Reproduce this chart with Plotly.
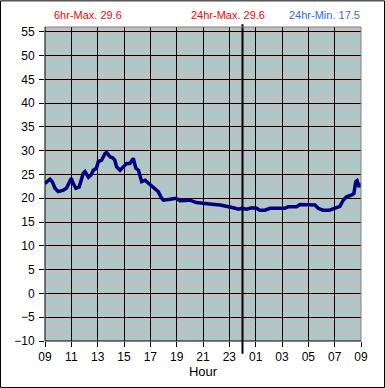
import plotly.graph_objects as go

# Hours since 09:00 and temperature readings
hours = [0, 0.38, 0.55, 0.76, 1.0, 1.4, 1.65, 1.9, 2.0, 2.15, 2.35, 2.6, 2.9, 3.04, 3.3, 3.5,
         3.67, 3.9, 4.05, 4.3, 4.56, 4.68, 4.94, 5.14, 5.3, 5.44, 5.7, 5.95, 6.2, 6.45, 6.7,
         6.9, 7.1, 7.34, 7.6, 7.84, 8.2, 8.6, 8.86, 9.0, 9.5, 9.95, 10.25, 10.76, 11.0, 11.5,
         12.0, 12.5, 13.3, 13.67, 14.05, 14.3, 14.7, 14.94, 15.3, 15.7, 16.07, 16.3, 16.7,
         17.1, 17.7, 18.2, 18.47, 19.1, 19.36, 20.1, 20.5, 20.75, 21.1, 21.6, 22.0, 22.4,
         22.65, 22.9, 23.3, 23.46, 23.6, 23.7, 23.85, 24.0]
temps = [23.1, 24.0, 23.5, 22.1, 21.4, 21.7, 22.2, 23.5, 24.2, 23.1, 22.1, 22.4, 25.2, 25.6,
         24.4, 24.9, 25.9, 26.3, 27.7, 28.0, 29.4, 29.6, 28.7, 28.5, 28.0, 26.6, 25.9, 26.6,
         27.3, 27.3, 28.4, 26.3, 25.9, 23.5, 23.8, 23.2, 22.4, 21.4, 20.0, 19.6, 19.8, 20.0,
         19.5, 19.5, 19.6, 19.1, 18.9, 18.8, 18.6, 18.4, 18.3, 18.0, 17.7, 17.9, 17.7, 18.0,
         17.9, 17.5, 17.5, 17.9, 17.9, 17.9, 18.2, 18.2, 18.7, 18.7, 18.6, 17.9, 17.5, 17.5,
         17.9, 18.3, 19.6, 20.3, 20.7, 21.0, 23.5, 23.7, 22.4, 23.1]

x_tickvals = [0, 2, 4, 6, 8, 10, 12, 14, 16, 18, 20, 22, 24]
x_ticktext = ["09", "11", "13", "15", "17", "19", "21", "23", "01", "03", "05", "07", "09"]
y_tickvals = list(range(-10, 56, 5))
y_bright = [v + 2.5 for v in range(-10, 55, 5)]
midnight = 15

stats = [("6hr-Max. 29.6", 0.136, "#ff0000"),
         ("24hr-Max. 29.6", 0.579, "#ff0000"),
         ("24hr-Min. 17.5", 0.883, "#3366ff")]

FONT = "Liberation Sans, Arial, sans-serif"

fig = go.Figure()
fig.add_trace(go.Scatter(x=hours, y=temps, mode="lines",
                         line=dict(color="#000080", width=3.5), showlegend=False,
                         hoverinfo="skip"))

fig.update_layout(
    width=385, height=388,
    margin=dict(l=45, r=24, t=27, b=47, autoexpand=False),
    paper_bgcolor="white", plot_bgcolor="#c0c0c0",
    font=dict(family=FONT, size=12, color="black"),
    xaxis=dict(range=[0, 24], tickmode="array", tickvals=x_tickvals, ticktext=x_ticktext,
               ticks="outside", ticklen=5, tickcolor="black", showgrid=True,
               gridcolor="black", gridwidth=1, zeroline=False, showline=False,
               automargin=False,
               title=dict(text="Hour", standoff=3, font=dict(size=13))),
    xaxis2=dict(range=[0, 24], overlaying="x", anchor="y", tickmode="linear", tick0=0,
                dtick=1, showgrid=True, gridcolor="black", gridwidth=1, automargin=False,
                showticklabels=False, ticks="", zeroline=False, showline=False),
    yaxis=dict(range=[-10, 56], tickmode="array", tickvals=y_tickvals,
               ticks="outside", ticklen=5, tickcolor="black", showgrid=True,
               gridcolor="black", gridwidth=1, zeroline=False, showline=False,
               automargin=False, ticklabelstandoff=2,
               minor=dict(tickmode="linear", tick0=0, dtick=1, showgrid=True,
                          gridcolor="#7fdcdc", gridwidth=1, ticks="")),
    yaxis2=dict(range=[-10, 56], overlaying="y", anchor="x", tickmode="array",
                tickvals=[200], showgrid=False, showticklabels=False, ticks="",
                zeroline=False, showline=False, automargin=False,
                minor=dict(tickmode="array", tickvals=y_bright, showgrid=True,
                           gridcolor="#00ffff", gridwidth=2, ticks="")),
)

shapes = [
    dict(type="line", xref="x", yref="paper", x0=midnight, x1=midnight, y0=-0.041, y1=1.009,
         line=dict(color="black", width=2), layer="above"),
    dict(type="line", xref="paper", yref="paper", x0=0, x1=1, y0=1, y1=1,
         line=dict(color="#808080", width=1), layer="above"),
    dict(type="line", xref="paper", yref="paper", x0=1, x1=1, y0=0, y1=1,
         line=dict(color="#808080", width=1), layer="above"),
    dict(type="line", xref="paper", yref="paper", x0=0, x1=0, y0=0, y1=1,
         line=dict(color="black", width=1), layer="above"),
    dict(type="line", xref="paper", yref="paper", x0=0, x1=1, y0=0, y1=0,
         line=dict(color="black", width=1), layer="above"),
    dict(type="rect", xref="paper", yref="paper", x0=-0.1408, x1=1.0744, y0=-0.148, y1=1.0833,
         line=dict(color="black", width=1), fillcolor="rgba(0,0,0,0)", layer="above"),
]
fig.update_layout(shapes=shapes)

for text, xp, color in stats:
    fig.add_annotation(text=text, x=xp, y=1.037, xref="paper", yref="paper",
                       showarrow=False, xanchor="center", yanchor="middle",
                       font=dict(family=FONT, size=11, color=color))

fig.write_html("out.html", config={"displayModeBar": False},
               post_script="document.body.style.margin='0';document.body.style.padding='0';")
